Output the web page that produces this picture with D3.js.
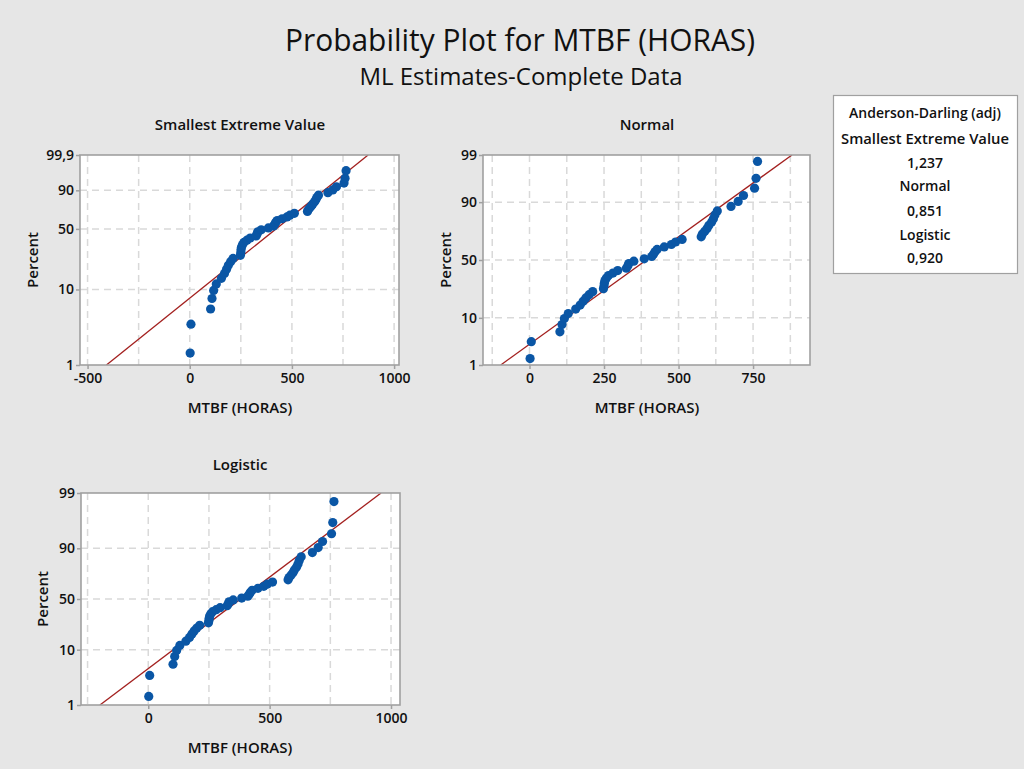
<!DOCTYPE html>
<html><head><meta charset="utf-8">
<script src="https://cdn.jsdelivr.net/npm/d3@7"></script>
<style>
body{margin:0;background:#e6e6e6}
svg{display:block}
text{font-family:"Open Sans","Noto Sans",sans-serif;fill:#111;font-weight:600}
</style>
</head><body>
<svg id="c" width="1024" height="769"></svg>
<script>
// ---- data ----
const mtbfHoras = [2,6,102,109,117,130,155,170,180,189,200,212,248,250,251,253,258,265,280,296,
  325,330,333,350,385,410,416,421,428,452,476,490,512,576,580,588,596,602,611,617,622,630,676,700,718,755,760,765];
const distNames = ["Smallest Extreme Value","Normal","Logistic"];
const sevPercentTicks = [1,10,50,90,99.9];
const stdPercentTicks = [1,10,50,90,99];
const gridPercents = [10,50,90];
const sevXTicks = [-500,0,500,1000];
const normalXTicks = [0,250,500,750];
const logisticXTicks = [0,500,1000];
const sevXGrid = [-500,-250,0,250,500,750,1000];
const normalXGrid = [-125,0,125,250,375,500,625,750,875];
const logisticXGrid = [-250,0,250,500,750,1000];
const fitLocation = [494,392,380];
const fitScale = [196,210,126];
const adLines = ["Anderson-Darling (adj)","Smallest Extreme Value","1,237","Normal","0,851","Logistic","0,920"];
const titleText = "Probability Plot for MTBF (HORAS)";
const subtitleText = "ML Estimates-Complete Data";
const xLabel = "MTBF (HORAS)", yLabel = "Percent";

// ---- helpers ----
function qnorm(p){
  const a=[-3.969683028665376e+01,2.209460984245205e+02,-2.759285104469687e+02,1.383577518672690e+02,-3.066479806614716e+01,2.506628277459239e+00];
  const b=[-5.447609879822406e+01,1.615858368580409e+02,-1.556989798598866e+02,6.680131188771972e+01,-1.328068155288572e+01];
  const c=[-7.784894002430293e-03,-3.223964580411365e-01,-2.400758277161838e+00,-2.549732539343734e+00,4.374664141464968e+00,2.938163982698783e+00];
  const d=[7.784695709041462e-03,3.224671290700398e-01,2.445134137142996e+00,3.754408661907416e+00];
  const pl=0.02425;let q,r;
  if(p<pl){q=Math.sqrt(-2*Math.log(p));return (((((c[0]*q+c[1])*q+c[2])*q+c[3])*q+c[4])*q+c[5])/((((d[0]*q+d[1])*q+d[2])*q+d[3])*q+1);}
  if(p>1-pl){q=Math.sqrt(-2*Math.log(1-p));return -(((((c[0]*q+c[1])*q+c[2])*q+c[3])*q+c[4])*q+c[5])/((((d[0]*q+d[1])*q+d[2])*q+d[3])*q+1);}
  q=p-0.5;r=q*q;return (((((a[0]*r+a[1])*r+a[2])*r+a[3])*r+a[4])*r+a[5])*q/(((((b[0]*r+b[1])*r+b[2])*r+b[3])*r+b[4])*r+1);
}
const transforms = [
  p=>Math.log(-Math.log(1-p)),
  p=>qnorm(p),
  p=>Math.log(p/(1-p))
];
const fmtPct = v => String(v).replace(".",",");

const panels = [
  {left:80,right:399,top:155,bottom:365,xDom:[-537,1024],xTicks:sevXTicks,xGrid:sevXGrid,pTicks:sevPercentTicks,titleY:130,cx:240,ylabX:38},
  {left:483,right:810,top:155,bottom:365,xDom:[-156,941],xTicks:normalXTicks,xGrid:normalXGrid,pTicks:stdPercentTicks,titleY:130,cx:647,ylabX:451},
  {left:81,right:400,top:493,bottom:705,xDom:[-277,1037],xTicks:logisticXTicks,xGrid:logisticXGrid,pTicks:stdPercentTicks,titleY:470,cx:240,ylabX:48}
];

const svg = d3.select("#c");
svg.append("rect").attr("width",1024).attr("height",769).attr("fill","#e6e6e6");

svg.append("text").attr("x",520).attr("y",51).attr("text-anchor","middle").style("font-weight","500")
  .style("font-size","31px").attr("textLength",470).attr("lengthAdjust","spacingAndGlyphs").text(titleText);
svg.append("text").attr("x",521).attr("y",85).attr("text-anchor","middle").style("font-weight","500")
  .style("font-size","23px").attr("textLength",323).attr("lengthAdjust","spacingAndGlyphs").text(subtitleText);

const n = mtbfHoras.length;
const sorted = mtbfHoras.slice().sort((a,b)=>a-b);
const ranks = sorted.map((v,i)=>({v, p:(i+1-0.3)/(n+0.4)}));

panels.forEach((P,k)=>{
  const T = transforms[k];
  const pMin = P.pTicks[0]/100, pMax = P.pTicks[P.pTicks.length-1]/100;
  const x = d3.scaleLinear().domain(P.xDom).range([P.left,P.right]);
  const y = d3.scaleLinear().domain([T(pMin),T(pMax)]).range([P.bottom,P.top]);
  const g = svg.append("g");
  g.append("rect").attr("x",P.left).attr("y",P.top).attr("width",P.right-P.left).attr("height",P.bottom-P.top).attr("fill","#fff");
  // grid
  g.selectAll(".vg").data(P.xGrid).join("line")
    .attr("x1",d=>x(d)).attr("x2",d=>x(d)).attr("y1",P.top).attr("y2",P.bottom)
    .attr("stroke","#d9d9d9").attr("stroke-width",1.5).attr("stroke-dasharray","7,5");
  g.selectAll(".hg").data(gridPercents).join("line")
    .attr("x1",P.left).attr("x2",P.right).attr("y1",d=>y(T(d/100))).attr("y2",d=>y(T(d/100)))
    .attr("stroke","#d9d9d9").attr("stroke-width",1.5).attr("stroke-dasharray","7,5");
  // clip
  const cid = "clip"+k;
  svg.append("clipPath").attr("id",cid).append("rect").attr("x",P.left).attr("y",P.top).attr("width",P.right-P.left).attr("height",P.bottom-P.top);
  // fit line
  const tA = T(pMin), tB = T(pMax);
  g.append("line").attr("clip-path",`url(#${cid})`)
    .attr("x1",x(fitLocation[k]+fitScale[k]*tA)).attr("y1",y(tA))
    .attr("x2",x(fitLocation[k]+fitScale[k]*tB)).attr("y2",y(tB))
    .attr("stroke","#a3201f").attr("stroke-width",1.3);
  // points
  g.selectAll(".pt").data(ranks).join("circle")
    .attr("cx",d=>x(d.v)).attr("cy",d=>y(T(d.p))).attr("r",4.6).attr("fill","#0a56a5");
  // frame
  g.append("rect").attr("x",P.left).attr("y",P.top).attr("width",P.right-P.left).attr("height",P.bottom-P.top)
    .attr("fill","none").attr("stroke","#a0a0a0").attr("stroke-width",1.6);
  // x axis
  const xa = g.append("g").attr("transform",`translate(0,${P.bottom})`)
    .call(d3.axisBottom(x).tickValues(P.xTicks).tickSize(4).tickPadding(4).tickFormat(d=>String(d)));
  xa.select(".domain").remove();
  xa.selectAll("line").attr("stroke","#a0a0a0").attr("stroke-width",1.5);
  xa.selectAll("text").style("font-size","14px").attr("fill","#111");
  // y axis
  const ya = g.append("g").attr("transform",`translate(${P.left},0)`)
    .call(d3.axisLeft(y).tickValues(P.pTicks.map(d=>T(d/100))).tickSize(4).tickPadding(2)
      .tickFormat((d,i)=>fmtPct(P.pTicks[i])));
  ya.select(".domain").remove();
  ya.selectAll("line").attr("stroke","#a0a0a0").attr("stroke-width",1.5);
  ya.selectAll("text").style("font-size","14px").attr("fill","#111");
  // labels
  g.append("text").attr("x",P.cx).attr("y",P.titleY).attr("text-anchor","middle").style("font-size","15px").text(distNames[k]);
  g.append("text").attr("x",P.cx).attr("y",P.bottom+48).attr("text-anchor","middle").style("font-size","15px").text(xLabel);
  g.append("text").attr("transform",`translate(${P.ylabX},${(P.top+P.bottom)/2}) rotate(-90)`)
    .attr("text-anchor","middle").style("font-size","15px").text(yLabel);
});

// Anderson-Darling box
svg.append("rect").attr("x",833.5).attr("y",95.5).attr("width",184).attr("height",178)
  .attr("fill","#fff").attr("stroke","#a0a0a0").attr("stroke-width",1.2);
const adY = [118,144,168,191,216,240,263];
svg.selectAll(".ad").data(adLines).join("text")
  .attr("x",925).attr("y",(d,i)=>adY[i]).attr("text-anchor","middle").style("font-size","14px")
  .attr("textLength",(d,i)=>i===1?168:null).attr("lengthAdjust","spacingAndGlyphs").text(d=>d);
</script>
</body></html>
